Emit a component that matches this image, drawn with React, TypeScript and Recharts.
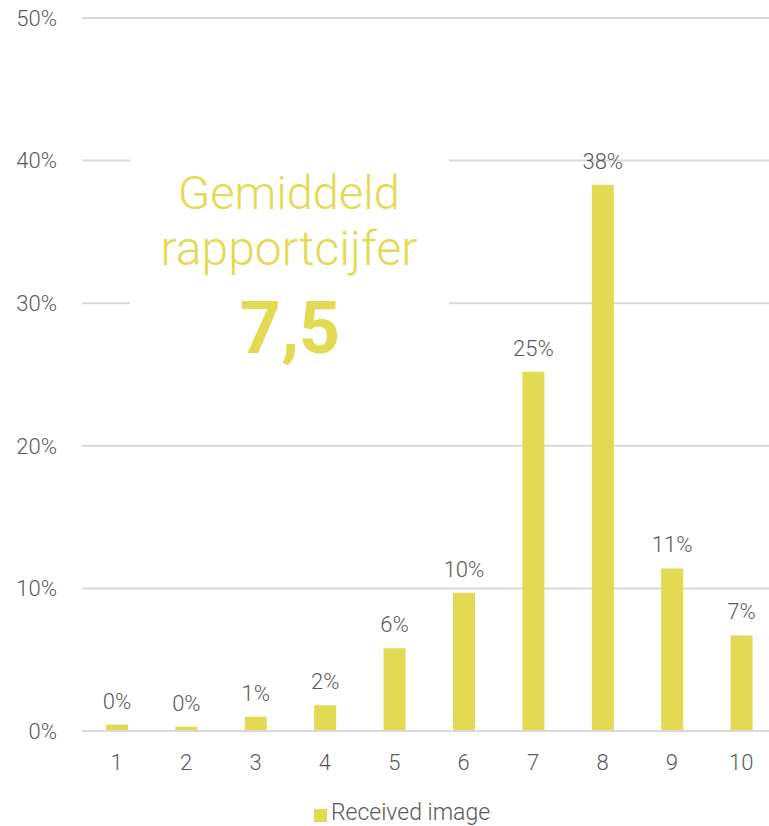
import { BarChart, Bar, XAxis, YAxis, CartesianGrid, Legend, LabelList } from 'recharts'

const grades = ['1', '2', '3', '4', '5', '6', '7', '8', '9', '10']
const received = [0.45, 0.3, 1.0, 1.8, 5.8, 9.7, 25.2, 38.3, 11.4, 6.7]
const yTicks = [0, 10, 20, 30, 40, 50]
const avgTitle = ['Gemiddeld', 'rapportcijfer']
const avgValue = '7,5'

const YELLOW = '#E2DA52'
const TEXT = '#595959'
const FONT = 'Roboto, "DejaVu Sans", sans-serif'

const data = grades.map((g, i) => ({ grade: g, value: received[i] }))

export default function App() {
  return (
    <div style={{ position: 'absolute', left: 0, top: 0, width: 769, height: 826, overflow: 'hidden', background: '#fff', fontFamily: FONT }}>
      <BarChart width={776} height={826} data={data} margin={{ top: 18, right: 0, bottom: 0, left: 0 }}>
        <CartesianGrid vertical={false} stroke="#D9D9D9" strokeWidth={2} />
        <XAxis
          dataKey="grade"
          axisLine={{ stroke: '#D9D9D9', strokeWidth: 2 }}
          tickLine={false}
          tickMargin={17}
          height={60}
          tick={{ fill: TEXT, fontSize: 22, fontFamily: FONT, fontWeight: 300 }}
        />
        <YAxis
          width={82}
          domain={[0, 50]}
          ticks={yTicks}
          axisLine={false}
          tickLine={false}
          tickMargin={19}
          tickFormatter={(v: number) => `${v}%`}
          tick={{ fill: TEXT, fontSize: 22, fontFamily: FONT, fontWeight: 300 }}
        />
        <Legend
          height={35}
          iconType="square"
          iconSize={13}
          wrapperStyle={{ left: 19, bottom: -8 }}
          formatter={(v: string) => <span style={{ color: TEXT, fontSize: 23, fontWeight: 300 }}>{v}</span>}
        />
        <Bar dataKey="value" name="Received image" fill={YELLOW} barSize={22} isAnimationActive={false}>
          <LabelList
            dataKey="value"
            position="top"
            offset={16}
            formatter={(v: number) => `${Math.round(v)}%`}
            style={{ fill: TEXT, fontSize: 22, fontFamily: FONT, fontWeight: 300 }}
          />
        </Bar>
      </BarChart>
      <svg width={769} height={826} style={{ position: 'absolute', left: 0, top: 0, pointerEvents: 'none' }}>
        <rect x={130} y={100} width={319} height={280} fill="#fff" />
        <text x={289} y={209} textAnchor="middle" fill={YELLOW} fontSize={47} fontWeight={300} fontFamily={FONT}>
          {avgTitle[0]}
        </text>
        <text x={289} y={265} textAnchor="middle" fill={YELLOW} fontSize={48} fontWeight={300} fontFamily={FONT}>
          {avgTitle[1]}
        </text>
        <text x={290} y={353} textAnchor="middle" fill={YELLOW} fontSize={72} fontWeight={700} fontFamily={FONT}>
          {avgValue}
        </text>
      </svg>
    </div>
  )
}
